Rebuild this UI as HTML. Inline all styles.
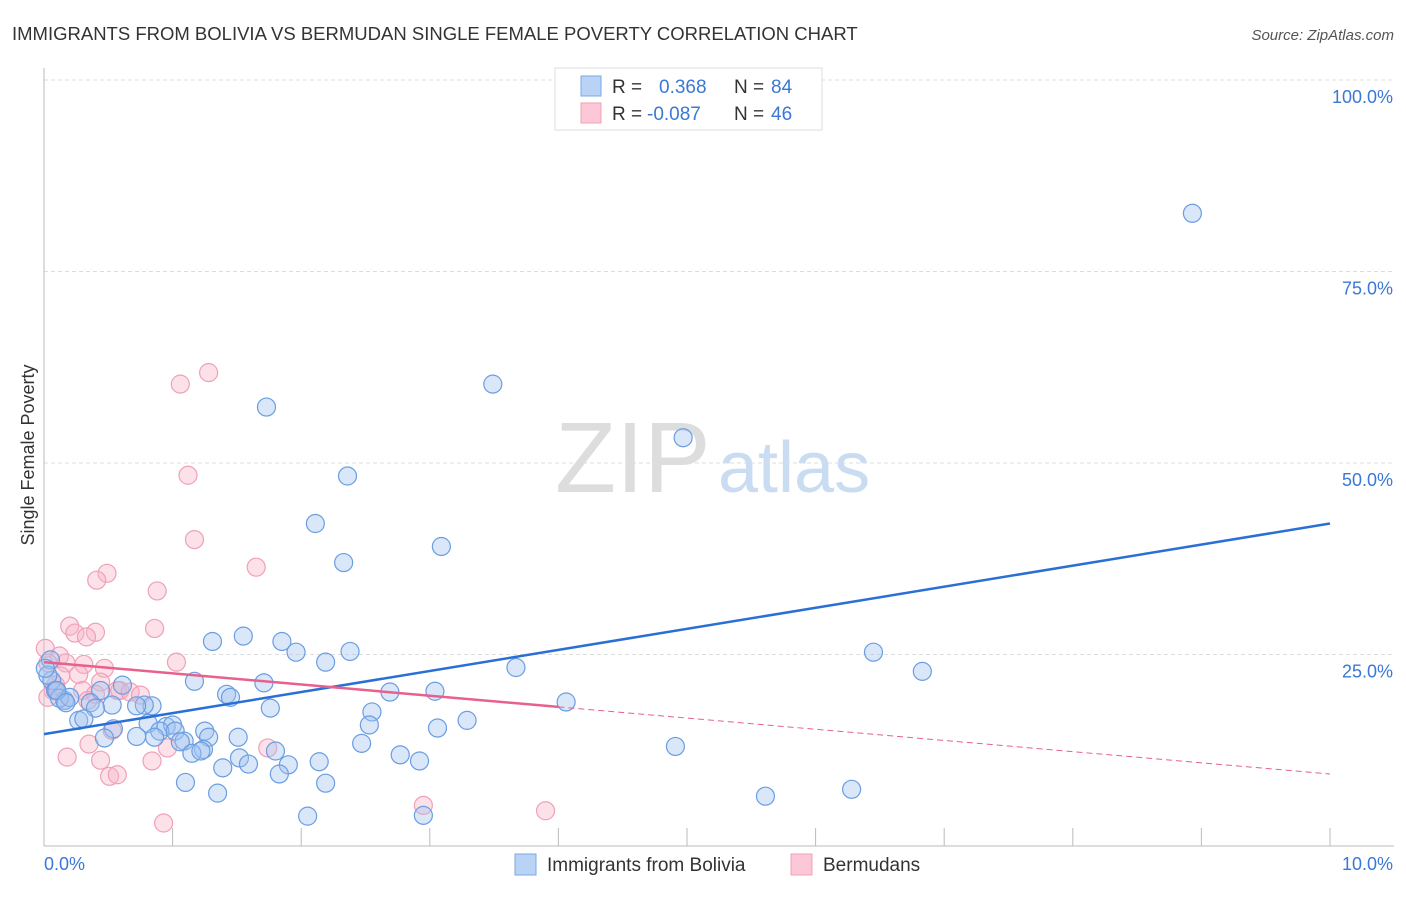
<!DOCTYPE html>
<html><head><meta charset="utf-8"><style>
body{margin:0;background:#fff;font-family:"Liberation Sans",sans-serif;}
svg text{font-family:"Liberation Sans",sans-serif;}
</style></head><body>
<svg id="chart" width="1406" height="892" xmlns="http://www.w3.org/2000/svg">
<text x="12" y="40" font-size="18.5" fill="#333">IMMIGRANTS FROM BOLIVIA VS BERMUDAN SINGLE FEMALE POVERTY CORRELATION CHART</text>
<text x="1394" y="40" font-size="15" fill="#555" font-style="italic" text-anchor="end">Source: ZipAtlas.com</text>
<text transform="translate(34,455) rotate(-90)" font-size="18" fill="#333" text-anchor="middle">Single Female Poverty</text>
<text x="555" y="492" font-size="100" fill="#ddd" font-family="Liberation Serif">ZIP</text>
<text x="718" y="492" font-size="72" fill="#c9dcf2">atlas</text>
<g id="grid"></g><g id="axes"></g><g id="pts"></g><g id="lines"></g>
<g>
<rect x="555" y="68" width="267" height="62" fill="#fff" stroke="#ddd"/>
<rect x="581" y="76" width="20" height="20" fill="#b8d3f5" stroke="#7aa8e6"/>
<rect x="581" y="103" width="20" height="20" fill="#fcc8d8" stroke="#f0a0b8"/>
<text x="612" y="93" font-size="19" fill="#333">R = </text><text x="659" y="93" font-size="19" fill="#3a78d6">0.368</text>
<text x="734" y="93" font-size="19" fill="#333">N = </text><text x="771" y="93" font-size="19" fill="#3a78d6">84</text>
<text x="612" y="120" font-size="19" fill="#333">R = </text><text x="647" y="120" font-size="19" fill="#3a78d6">-0.087</text>
<text x="734" y="120" font-size="19" fill="#333">N = </text><text x="771" y="120" font-size="19" fill="#3a78d6">46</text>
</g>
<g>
<rect x="515" y="854" width="21" height="21" fill="#b8d3f5" stroke="#7aa8e6"/>
<text x="547" y="871" font-size="19" fill="#333">Immigrants from Bolivia</text>
<rect x="791" y="854" width="21" height="21" fill="#fcc8d8" stroke="#f0a0b8"/>
<text x="823" y="871" font-size="19" fill="#333">Bermudans</text>
</g>
</svg>
<script>
const yTicks=[100,75,50,25];
const yTickLabels=["100.0%","75.0%","50.0%","25.0%"];
const xTickLabels=["0.0%","10.0%"];
const blueX=[8.93,3.49,1.73,4.97,2.36,2.11,3.09,2.33,1.55,1.31,1.85,1.96,2.38,2.19,3.67,6.45,6.83,1.17,1.71,0.61,0.44,2.69,3.04,1.42,1.45,0.16,4.06,0.36,0.84,0.78,1.76,0.72,0.53,0.40,0.27,0.31,2.55,3.29,3.06,2.53,0.81,0.95,1.00,0.90,1.02,1.25,1.09,1.28,1.51,1.06,0.54,0.47,0.72,0.86,1.24,1.15,1.22,1.80,2.47,2.77,2.92,2.14,1.52,1.59,1.39,1.90,1.83,4.91,1.10,2.19,1.35,5.61,6.28,2.05,2.95,0.05,0.06,0.09,0.12,0.20,0.03,0.10,0.01,0.17];
const blueY=[82.6,60.3,57.3,53.3,48.3,42.1,39.1,37.0,27.4,26.7,26.7,25.3,25.4,24.0,23.3,25.3,22.8,21.5,21.3,21.0,20.3,20.1,20.2,19.8,19.4,19.0,18.8,18.7,18.3,18.4,18.0,18.3,18.4,18.0,16.4,16.6,17.5,16.4,15.4,15.8,16.0,15.6,15.8,15.0,15.0,15.0,13.7,14.2,14.2,13.6,15.3,14.1,14.3,14.2,12.6,12.1,12.4,12.4,13.4,11.9,11.1,11.0,11.5,10.7,10.2,10.6,9.4,13.0,8.3,8.2,6.9,6.5,7.4,3.9,4.0,24.3,21.6,20.3,19.3,19.4,22.3,20.3,23.2,18.7];
const pinkX=[1.28,1.06,1.12,1.17,1.65,0.49,0.41,0.88,0.86,0.20,0.24,0.40,0.33,1.03,0.01,0.12,0.03,0.17,0.31,0.27,0.47,0.13,0.07,0.30,0.44,0.40,0.57,0.59,0.67,0.75,0.03,0.16,0.34,0.53,0.35,0.18,0.44,0.84,0.96,1.74,0.51,0.57,0.93,2.95,3.90,0.09];
const pinkY=[61.8,60.3,48.4,40.0,36.4,35.6,34.7,33.3,28.4,28.7,27.8,27.9,27.3,24.0,25.8,24.8,23.9,23.9,23.7,22.4,23.2,22.2,20.3,20.3,21.4,19.8,20.3,20.3,20.1,19.7,19.4,19.0,19.0,15.1,13.3,11.6,11.2,11.1,12.8,12.8,9.1,9.3,3.0,5.3,4.6,21.0];
const blueFit=[14.6,2.75];
const pinkFit=[24.0,-1.46];
const pinkSolidEnd=4.0;
const X0=44,X1=1330,Y0=846,Y100=80;
const sx=v=>X0+(v/10)*(X1-X0);
const sy=v=>Y0-(v/100)*(Y0-Y100);
const NS="http://www.w3.org/2000/svg";
function mk(t,a,p){const e=document.createElementNS(NS,t);for(const k in a)e.setAttribute(k,a[k]);p.appendChild(e);return e;}
const grid=document.getElementById('grid'),axes=document.getElementById('axes'),pts=document.getElementById('pts'),lines=document.getElementById('lines');
yTicks.forEach((t,i)=>{
 const l=mk('line',{x1:X0,x2:1394,y1:sy(t),y2:sy(t),stroke:'#ddd','stroke-dasharray':'4,3'},grid);
 
 
 const tx=mk('text',{x:1393,y:sy(t)+23,'font-size':18,fill:'#3a78d6','text-anchor':'end'},grid);tx.textContent=yTickLabels[i];
 
 
});
const ya=mk('line',{x1:X0,x2:X0,y1:68,y2:Y0,stroke:'#bbb'},axes);


const xa=mk('line',{x1:X0,x2:1394,y1:Y0,y2:Y0,stroke:'#bbb'},axes);


for(let i=1;i<=10;i++){const t=mk('line',{x1:sx(i),x2:sx(i),y1:828,y2:Y0,stroke:'#bbb'},axes);
 
 }
[[0,'start',44],[10,'end',1393]].forEach((d,i)=>{const t=mk('text',{x:d[2],y:870,'font-size':18,fill:'#3a78d6','text-anchor':d[1]},axes);t.textContent=xTickLabels[i];
 
 });
pinkX.forEach((x,i)=>{const c=mk('circle',{cx:sx(x),cy:sy(pinkY[i]),r:9,fill:'rgba(248,180,200,0.4)',stroke:'#f0a0b8','stroke-width':1.2},pts);
 
 });
blueX.forEach((x,i)=>{const c=mk('circle',{cx:sx(x),cy:sy(blueY[i]),r:9,fill:'rgba(160,196,240,0.4)',stroke:'#6a9de2','stroke-width':1.2},pts);
 
 });
const bl=mk('line',{x1:sx(0),y1:sy(blueFit[0]),x2:sx(10),y2:sy(blueFit[0]+blueFit[1]*10),stroke:'#2a6fd6','stroke-width':2.5},lines);


const pl=mk('line',{x1:sx(0),y1:sy(pinkFit[0]),x2:sx(pinkSolidEnd),y2:sy(pinkFit[0]+pinkFit[1]*pinkSolidEnd),stroke:'#e8608c','stroke-width':2.5},lines);


const pd=mk('line',{x1:sx(pinkSolidEnd),y1:sy(pinkFit[0]+pinkFit[1]*pinkSolidEnd),x2:sx(10),y2:sy(pinkFit[0]+pinkFit[1]*10),stroke:'#e8608c','stroke-width':1,'stroke-dasharray':'6,4'},lines);


</script>
</body></html>
